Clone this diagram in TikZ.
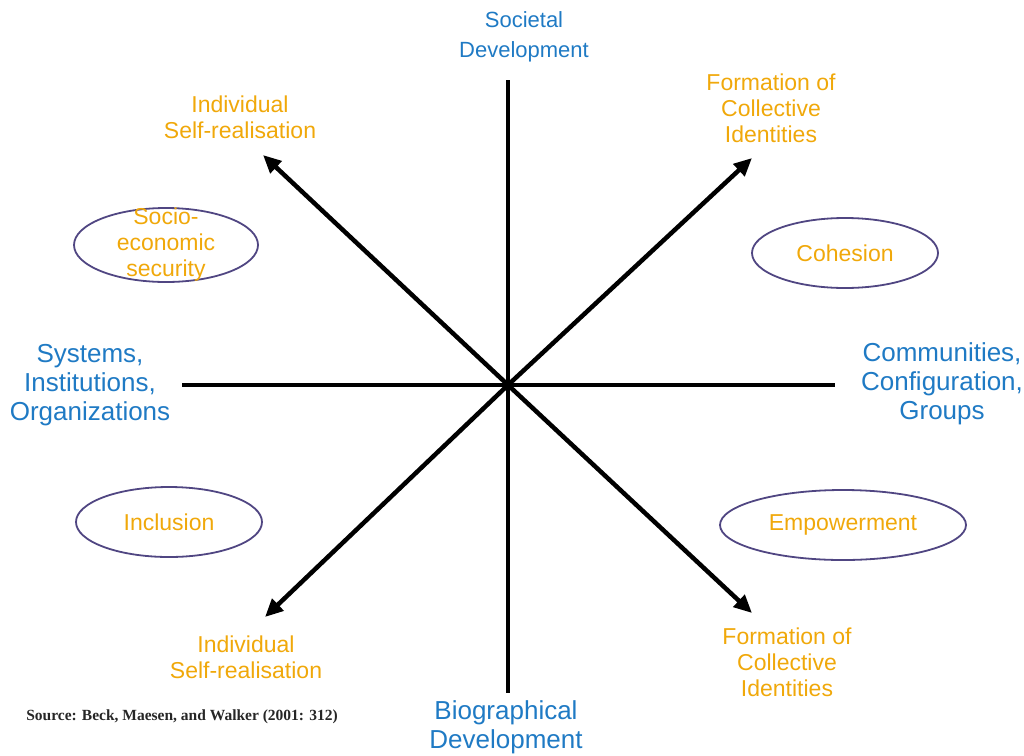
\documentclass[tikz,border=0pt]{standalone}
\usepackage{fontspec}
\setmainfont{Liberation Sans}
\newfontfamily\srcfont{Liberation Serif}
\usetikzlibrary{shapes.geometric,arrows.meta}
\definecolor{axisblue}{RGB}{31,122,196}
\definecolor{amber}{RGB}{240,168,10}
\definecolor{ellborder}{RGB}{80,70,130}
\tikzset{
  axislabel/.style={text=axisblue,align=center,font=\fontsize{26}{29}\selectfont},
  dimlabel/.style={text=amber,align=center,font=\fontsize{23}{26}\selectfont},
  domainell/.style={ellipse,draw=ellborder,line width=1.8pt,text=amber,align=center,
    font=\fontsize{23}{26}\selectfont,inner sep=0pt},
  axisline/.style={line width=4.5pt,black},
  axisarrow/.style={axisline,-{Triangle[length=18pt,width=16pt]}}
}
\begin{document}
\begin{tikzpicture}[x=1pt,y=-1pt]
\useasboundingbox (0,0) rectangle (1024,755);
\coordinate (c) at (508,385);
\coordinate (top) at (508,80);
\coordinate (bot) at (508,693);
\coordinate (lft) at (182,385);
\coordinate (rgt) at (835,385);
\coordinate (ur) at (752,158);
\coordinate (ul) at (263,155);
\coordinate (ll) at (265,617);
\coordinate (lr) at (752,613);

\draw[axisline] (top) -- (bot);
\draw[axisline] (lft) -- (rgt);
\draw[axisarrow] (c) -- (ur);
\draw[axisarrow] (c) -- (ul);
\draw[axisarrow] (c) -- (ll);
\draw[axisarrow] (c) -- (lr);

\node[axislabel,font=\fontsize{22}{30}\selectfont] (soc) at (524,37) {Societal\\Development};
\node[axislabel] (bio) at (506,727) {Biographical\\Development};
\node[axislabel] (sys) at (90,385) {Systems,\\Institutions,\\Organizations};
\node[axislabel] (com) at (942,384) {Communities,\\Configuration,\\Groups};

\node[dimlabel] (fci1) at (771,108) {Formation of\\Collective\\Identities};
\node[dimlabel] (isr1) at (240,117) {Individual\\Self-realisation};
\node[dimlabel] (isr2) at (246,657) {Individual\\Self-realisation};
\node[dimlabel] (fci2) at (787,662) {Formation of\\Collective\\Identities};

\node[domainell,minimum width=184pt,minimum height=74pt] (ses) at (166,245) {};
\node[dimlabel] (sestext) at (ses.center) {Socio-\\economic\\security};
\node[domainell,minimum width=186pt,minimum height=70pt] (coh) at (845,253) {Cohesion};
\node[domainell,minimum width=186pt,minimum height=70pt] (inc) at (169,522) {Inclusion};
\node[domainell,minimum width=246pt,minimum height=70pt] (emp) at (843,525) {Empowerment};

\node[font=\srcfont\bfseries\fontsize{15.5}{17}\selectfont,text=black!85] (src) at (182,717) {Source: Beck, Maesen, and Walker (2001: 312)};
\end{tikzpicture}
\end{document}
